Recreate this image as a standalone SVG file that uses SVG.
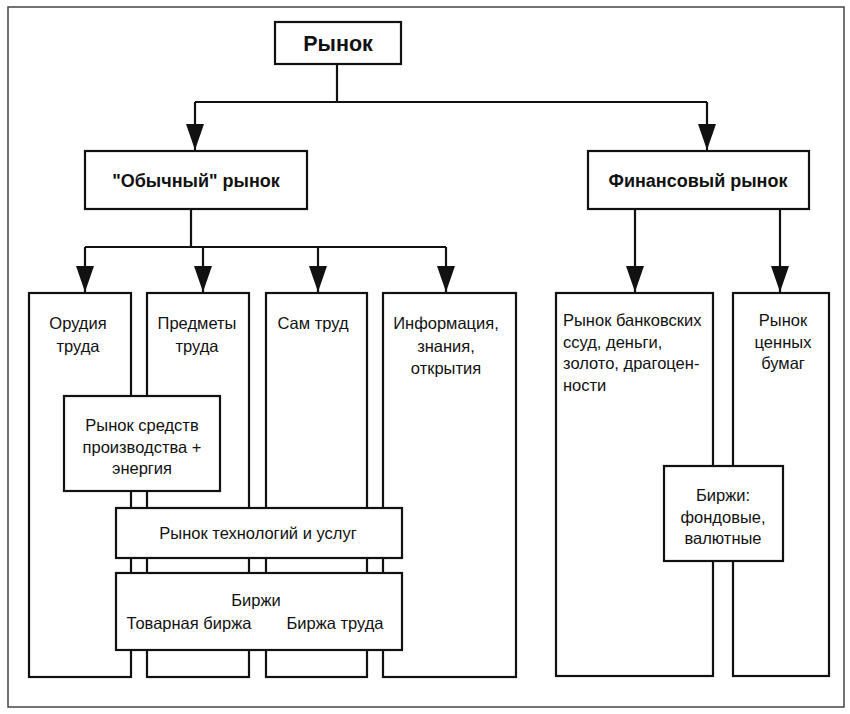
<svg xmlns="http://www.w3.org/2000/svg" width="850" height="714" viewBox="0 0 850 714">
<defs>
<style>
.box{fill:#fff;stroke:#111;stroke-width:2.2}
.ln{fill:none;stroke:#111;stroke-width:2.2}
text{font-family:"Liberation Sans",Arial,sans-serif;fill:#111;font-size:16.5px}
.c{text-anchor:middle}
.b{font-weight:bold}
.t1{font-size:21.5px}
.t2{font-size:18px}
</style>
<marker id="ah" markerUnits="userSpaceOnUse" markerWidth="26" markerHeight="18" viewBox="0 0 26 18" refX="26" refY="9" orient="auto">
<path d="M0,0 L26,9 L0,18 Z" fill="#111"/>
</marker>
</defs>
<rect x="0" y="0" width="850" height="714" fill="#fff"/>
<rect x="8" y="7" width="836" height="700" fill="none" stroke="#444" stroke-width="1.5"/>
<g id="connectors">
<path class="ln" d="M337,64 V102"/>
<path class="ln" d="M195,102 H707"/>
<path class="ln" d="M195,102 V150" marker-end="url(#ah)"/>
<path class="ln" d="M707,102 V150" marker-end="url(#ah)"/>
<path class="ln" d="M191,209 V247"/>
<path class="ln" d="M85,247 H446"/>
<path class="ln" d="M85,247 V292" marker-end="url(#ah)"/>
<path class="ln" d="M203,247 V292" marker-end="url(#ah)"/>
<path class="ln" d="M318,247 V292" marker-end="url(#ah)"/>
<path class="ln" d="M446,247 V292" marker-end="url(#ah)"/>
<path class="ln" d="M635,209 V292" marker-end="url(#ah)"/>
<path class="ln" d="M780,209 V292" marker-end="url(#ah)"/>
</g>
<g id="root"><rect class="box" x="275" y="22" width="126" height="42"/><text class="c b t1" x="338" y="51">Рынок</text></g>
<g id="ordinary"><rect class="box" x="85" y="151" width="222" height="58"/><text class="c b t2" x="196" y="187">"Обычный" рынок</text></g>
<g id="financial"><rect class="box" x="588" y="151" width="221" height="58"/><text class="c b t2" x="698" y="187">Финансовый рынок</text></g>
<g id="col1"><rect class="box" x="29" y="293" width="102" height="384"/><text class="c" x="78" y="329">Орудия</text><text class="c" x="78" y="352">труда</text></g>
<g id="col2"><rect class="box" x="147" y="293" width="102" height="384"/><text class="c" x="197" y="329">Предметы</text><text class="c" x="197" y="352">труда</text></g>
<g id="col3"><rect class="box" x="266" y="293" width="101" height="384"/><text class="c" x="313" y="329">Сам труд</text></g>
<g id="col4"><rect class="box" x="383" y="293" width="133" height="384"/><text class="c" x="446" y="329">Информация,</text><text class="c" x="446" y="352">знания,</text><text class="c" x="446" y="374">открытия</text></g>
<g id="col5"><rect class="box" x="556" y="293" width="157" height="383"/><text x="563" y="326">Рынок банковских</text><text x="563" y="348">ссуд, деньги,</text><text x="563" y="369">золото, драгоцен-</text><text x="563" y="391">ности</text></g>
<g id="col6"><rect class="box" x="733" y="293" width="96" height="383"/><text class="c" x="783" y="326">Рынок</text><text class="c" x="783" y="348">ценных</text><text class="c" x="783" y="369">бумаг</text></g>
<g id="means"><rect class="box" x="64" y="396" width="156" height="95"/><text class="c" x="142" y="431">Рынок средств</text><text class="c" x="142" y="453">производства +</text><text class="c" x="142" y="474">энергия</text></g>
<g id="tech"><rect class="box" x="116" y="508" width="286" height="50"/><text class="c" x="258" y="539">Рынок технологий и услуг</text></g>
<g id="exchanges"><rect class="box" x="116" y="573" width="286" height="77"/><text class="c" x="256" y="606">Биржи</text><text class="c" x="189" y="629">Товарная биржа</text><text class="c" x="335" y="629">Биржа труда</text></g>
<g id="stock"><rect class="box" x="664" y="466" width="119" height="95"/><text class="c" x="723" y="501">Биржи:</text><text class="c" x="723" y="523">фондовые,</text><text class="c" x="723" y="544">валютные</text></g>
</svg>
